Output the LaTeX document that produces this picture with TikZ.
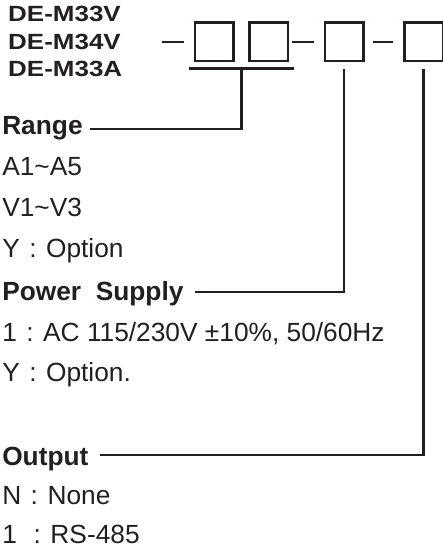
\documentclass[tikz,border=0pt]{standalone}
\usepackage{fontspec}
\setmainfont{Liberation Sans}
\newfontfamily\titlefont{Liberation Sans}[FakeStretch=1.18]
\usetikzlibrary{positioning, calc}
\definecolor{ink}{HTML}{231F20}
\newcommand{\fcolon}{\makebox[1em]{:}}
\tikzset{
  cell/.style={draw=ink, line width=2.5pt, minimum size=38.5pt, inner sep=0pt},
  item/.style={anchor=base west, inner sep=0pt, text=ink, font=\fontsize{26.3}{28}\selectfont},
  head/.style={item, font=\bfseries\fontsize{26.3}{28}\selectfont},
  model/.style={item, font=\titlefont\bfseries\fontsize{22}{24}\selectfont}
}

\begin{document}
\begin{tikzpicture}[x=1pt, y=-1pt, line width=2.5pt, draw=ink]
\useasboundingbox (0,0) rectangle (443,551);

%% model names
\node[model] (m1) at (7,22) {DE-M33V};
\node[model] (m2) at (7,49) {DE-M34V};
\node[model] (m3) at (7,77) {DE-M33A};

%% code boxes
\node[cell] (box1) at (214,42) {};
\node[cell] (box2) at (268.5,42) {};
\node[cell] (box3) at (344,42) {};
\node[cell] (box4) at (423.5,42) {};

\coordinate (lead) at (162,42);
\draw (lead) -- ([xshift=-10pt]box1.west);
\draw[shorten <=3pt, shorten >=10pt] (box2.east) -- (box3.west);
\draw[shorten <=8pt, shorten >=10pt] (box3.east) -- (box4.west);

%% range group
\draw ([xshift=-5pt,yshift=-6pt]box1.south west) -- ([xshift=5pt,yshift=-6pt]box2.south east);
\coordinate (tap) at ($(box1.south)!0.5!(box2.south)+(0,6)$);

%% fields
\node[head] (range) at (1,134) {Range};
\node[item] (a15) at (1,175) {A1\textasciitilde A5};
\node[item] (v13) at (1,216) {V1\textasciitilde V3};
\node[item] (ropt) at (1,257) {Y\fcolon Option};

\node[head] (power) at (1,300) {Power\ \ Supply};
\node[item] (ac) at (1,341) {1\fcolon AC 115/230V ±10\%, 50/60Hz};
\node[item] (popt) at (1,381) {Y\fcolon Option.};

\node[head] (output) at (1,465) {Output};
\node[item] (none) at (1,504) {N\fcolon None};
\node[item] (rs) at (1,543) {1 \fcolon RS-485};

%% leaders
\draw ([xshift=6pt,yshift=5pt]range.base east) -| (tap);
\draw ([xshift=10pt,yshift=8pt]power.base east) -| ([yshift=-6pt]box3.south);
\draw ([xshift=10pt,yshift=10pt]output.base east) -| ([yshift=-6pt]box4.south);

\end{tikzpicture}
\end{document}
